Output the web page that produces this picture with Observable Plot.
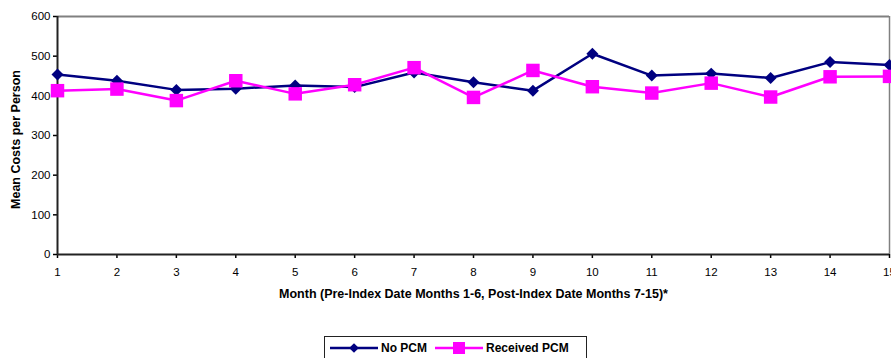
<!DOCTYPE html>
<html>
<head>
<meta charset="utf-8">
<script src="https://cdn.jsdelivr.net/npm/d3@7"></script>
<script src="https://cdn.jsdelivr.net/npm/@observablehq/plot@0.6"></script>
<style>
  html, body { margin: 0; padding: 0; background: #fff; overflow: hidden; width: 891px; height: 358px; }
  body { font-family: Arial, "Liberation Sans", sans-serif; position: relative; }
  #legend {
    position: absolute; left: 324px; top: 336px; width: 263px; height: 30px;
    border: 1px solid #222; box-sizing: border-box; background: #fff;
    display: flex; align-items: flex-start; padding-top: 3px;
    font-size: 12px; font-weight: bold; color: #000;
  }
  #legend .item { display: flex; align-items: center; }
  #legend svg { display: block; }
</style>
</head>
<body>
<div id="chart"></div>
<div id="legend"></div>
<script>
// Monthly mean cost per person, months 1-6 before the index date, 7-15 after
const months = [1, 2, 3, 4, 5, 6, 7, 8, 9, 10, 11, 12, 13, 14, 15];
const noPcm = [454, 438, 415, 418, 426, 422, 459, 434, 413, 506, 451, 456, 445, 485, 478];
const receivedPcm = [413, 417, 388, 438, 405, 428, 471, 396, 464, 423, 407, 432, 397, 448, 449];
const yTicks = [0, 100, 200, 300, 400, 500, 600];

const seriesNames = ["No PCM", "Received PCM"];
const seriesColors = ["#000080", "#FF00FF"];

const rows = months.flatMap((m, i) => [
  {month: m, cost: noPcm[i], group: seriesNames[0]},
  {month: m, cost: receivedPcm[i], group: seriesNames[1]}
]);
const noRows = rows.filter(d => d.group === seriesNames[0]);
const pcmRows = rows.filter(d => d.group === seriesNames[1]);

const xMin = months[0], xMax = months[months.length - 1];
const yMin = yTicks[0], yMax = yTicks[yTicks.length - 1];

const chart = Plot.plot({
  width: 930,
  height: 320,
  marginLeft: 57,
  marginRight: 41,
  marginTop: 16,
  marginBottom: 66,
  style: {fontFamily: "Arial, 'Liberation Sans', sans-serif", fontSize: "12px", color: "#000", maxWidth: "none", overflow: "visible", background: "#fff"},
  x: {domain: [xMin, xMax]},
  y: {domain: [yMin, yMax]},
  color: {domain: seriesNames, range: seriesColors},
  marks: [
    // plot area frame: gray top/right, dark axes left/bottom
    Plot.ruleY([yMax], {stroke: "#808080", strokeWidth: 2}),
    Plot.ruleX([xMax], {stroke: "#808080", strokeWidth: 1.5}),
    Plot.axisX({ticks: months, tickFormat: d3.format("d"), tickSize: 4, tickPadding: 9, fontSize: 11.5, label: null, stroke: "#000", strokeWidth: 1.5}),
    Plot.axisY({ticks: yTicks, tickSize: 4, tickPadding: 3, fontSize: 11.5, label: null, stroke: "#000", strokeWidth: 1.5}),
    Plot.ruleY([yMin], {stroke: "#222", strokeWidth: 2}),
    Plot.ruleX([xMin], {stroke: "#222", strokeWidth: 2}),
    // series
    Plot.line(noRows, {x: "month", y: "cost", stroke: seriesColors[0], strokeWidth: 2.5}),
    Plot.line(pcmRows, {x: "month", y: "cost", stroke: seriesColors[1], strokeWidth: 2.5}),
    Plot.dot(noRows, {x: "month", y: "cost", symbol: "diamond2", r: 5.4, fill: seriesColors[0], stroke: "none"}),
    Plot.dot(pcmRows, {x: "month", y: "cost", symbol: "square", r: 7.6, fill: seriesColors[1], stroke: "none"}),
    // axis titles
    Plot.text(["Month (Pre-Index Date Months 1-6, Post-Index Date Months 7-15)*"], {
      frameAnchor: "bottom", x: () => 8, dy: 43, fontWeight: "bold", fontSize: 12.5, fill: "#000"
    }),
    Plot.text(["Mean Costs per Person"], {
      frameAnchor: "left", textAnchor: "middle", rotate: -90, dx: -42, dy: 4, fontWeight: "bold", fontSize: 12.5, fill: "#000"
    })
  ]
});
document.getElementById("chart").appendChild(chart);

// legend below the chart
const legend = document.getElementById("legend");
seriesNames.forEach((name, i) => {
  const item = document.createElement("div");
  item.className = "item";
  item.style.marginLeft = i === 0 ? "5px" : "8px";
  const w = 48, h = 16;
  const sw = d3.create("svg").attr("width", w).attr("height", h);
  sw.append("line").attr("x1", 0).attr("x2", w).attr("y1", h / 2).attr("y2", h / 2)
    .attr("stroke", seriesColors[i]).attr("stroke-width", 2.5);
  if (i === 0) {
    sw.append("path").attr("d", d3.symbol(d3.symbolDiamond2, 60)()).attr("transform", `translate(${w / 2},${h / 2})`).attr("fill", seriesColors[i]);
  } else {
    sw.append("rect").attr("x", w / 2 - 6).attr("y", h / 2 - 6).attr("width", 12).attr("height", 12).attr("fill", seriesColors[i]);
  }
  item.appendChild(sw.node());
  const label = document.createElement("span");
  label.textContent = name;
  label.style.marginLeft = "3px";
  item.appendChild(label);
  legend.appendChild(item);
});
</script>
</body>
</html>
